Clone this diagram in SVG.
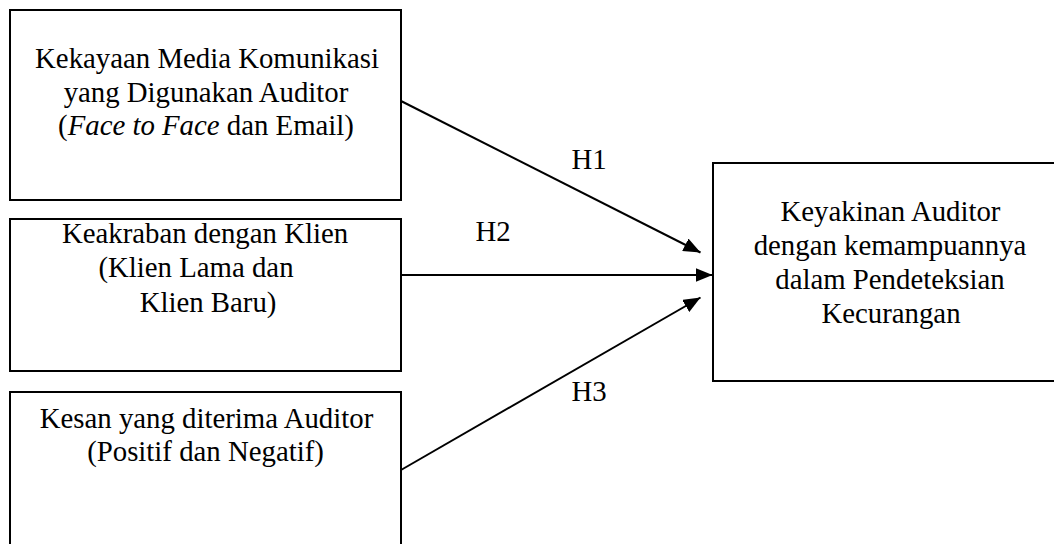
<svg xmlns="http://www.w3.org/2000/svg" width="1054" height="544" viewBox="0 0 1054 544">
<style>
.box{fill:#fff;stroke:#000;stroke-width:2}
.t{font-family:"Liberation Serif","Times New Roman",serif;font-size:28.8px;fill:#000;text-anchor:middle}
.c{stroke:#000;stroke-width:2;fill:none;marker-end:url(#ah)}
</style>
<defs>
<marker id="ah" markerUnits="userSpaceOnUse" markerWidth="18" markerHeight="14" refX="17" refY="7" orient="auto" viewBox="0 0 18 14">
<path d="M0,0 L17,7 L0,14 z" fill="#000"/>
</marker>
</defs>
<rect width="1054" height="544" fill="#fff"/>
<g id="node-media">
<rect class="box" x="10" y="10" width="391" height="190"/>
<text class="t" x="207" y="68">Kekayaan Media Komunikasi</text>
<text class="t" x="206" y="102">yang Digunakan Auditor</text>
<text class="t" x="206" y="135">(<tspan font-style="italic">Face to Face</tspan> dan Email)</text>
</g>
<g id="node-keakraban">
<rect class="box" x="10" y="219" width="391" height="152"/>
<text class="t" x="205" y="243">Keakraban dengan Klien</text>
<text class="t" x="196" y="277">(Klien Lama dan</text>
<text class="t" x="208" y="312">Klien Baru)</text>
</g>
<g id="node-kesan">
<rect class="box" x="10" y="392" width="391" height="170"/>
<text class="t" x="206.5" y="428">Kesan yang diterima Auditor</text>
<text class="t" x="205.5" y="461">(Positif dan Negatif)</text>
</g>
<g id="node-keyakinan">
<rect class="box" x="713" y="163" width="357" height="218"/>
<text class="t" x="890.5" y="221">Keyakinan Auditor</text>
<text class="t" x="890" y="255">dengan kemampuannya</text>
<text class="t" x="890" y="289">dalam Pendeteksian</text>
<text class="t" x="891" y="323">Kecurangan</text>
</g>
<g id="connectors">
<line class="c" x1="401" y1="101" x2="700.5" y2="252.5"/>
<line class="c" x1="401" y1="275" x2="712.5" y2="275"/>
<line class="c" x1="401" y1="470" x2="700.5" y2="297.5"/>
<text class="t" x="589" y="169">H1</text>
<text class="t" x="493" y="241">H2</text>
<text class="t" x="589" y="401">H3</text>
</g>
</svg>
